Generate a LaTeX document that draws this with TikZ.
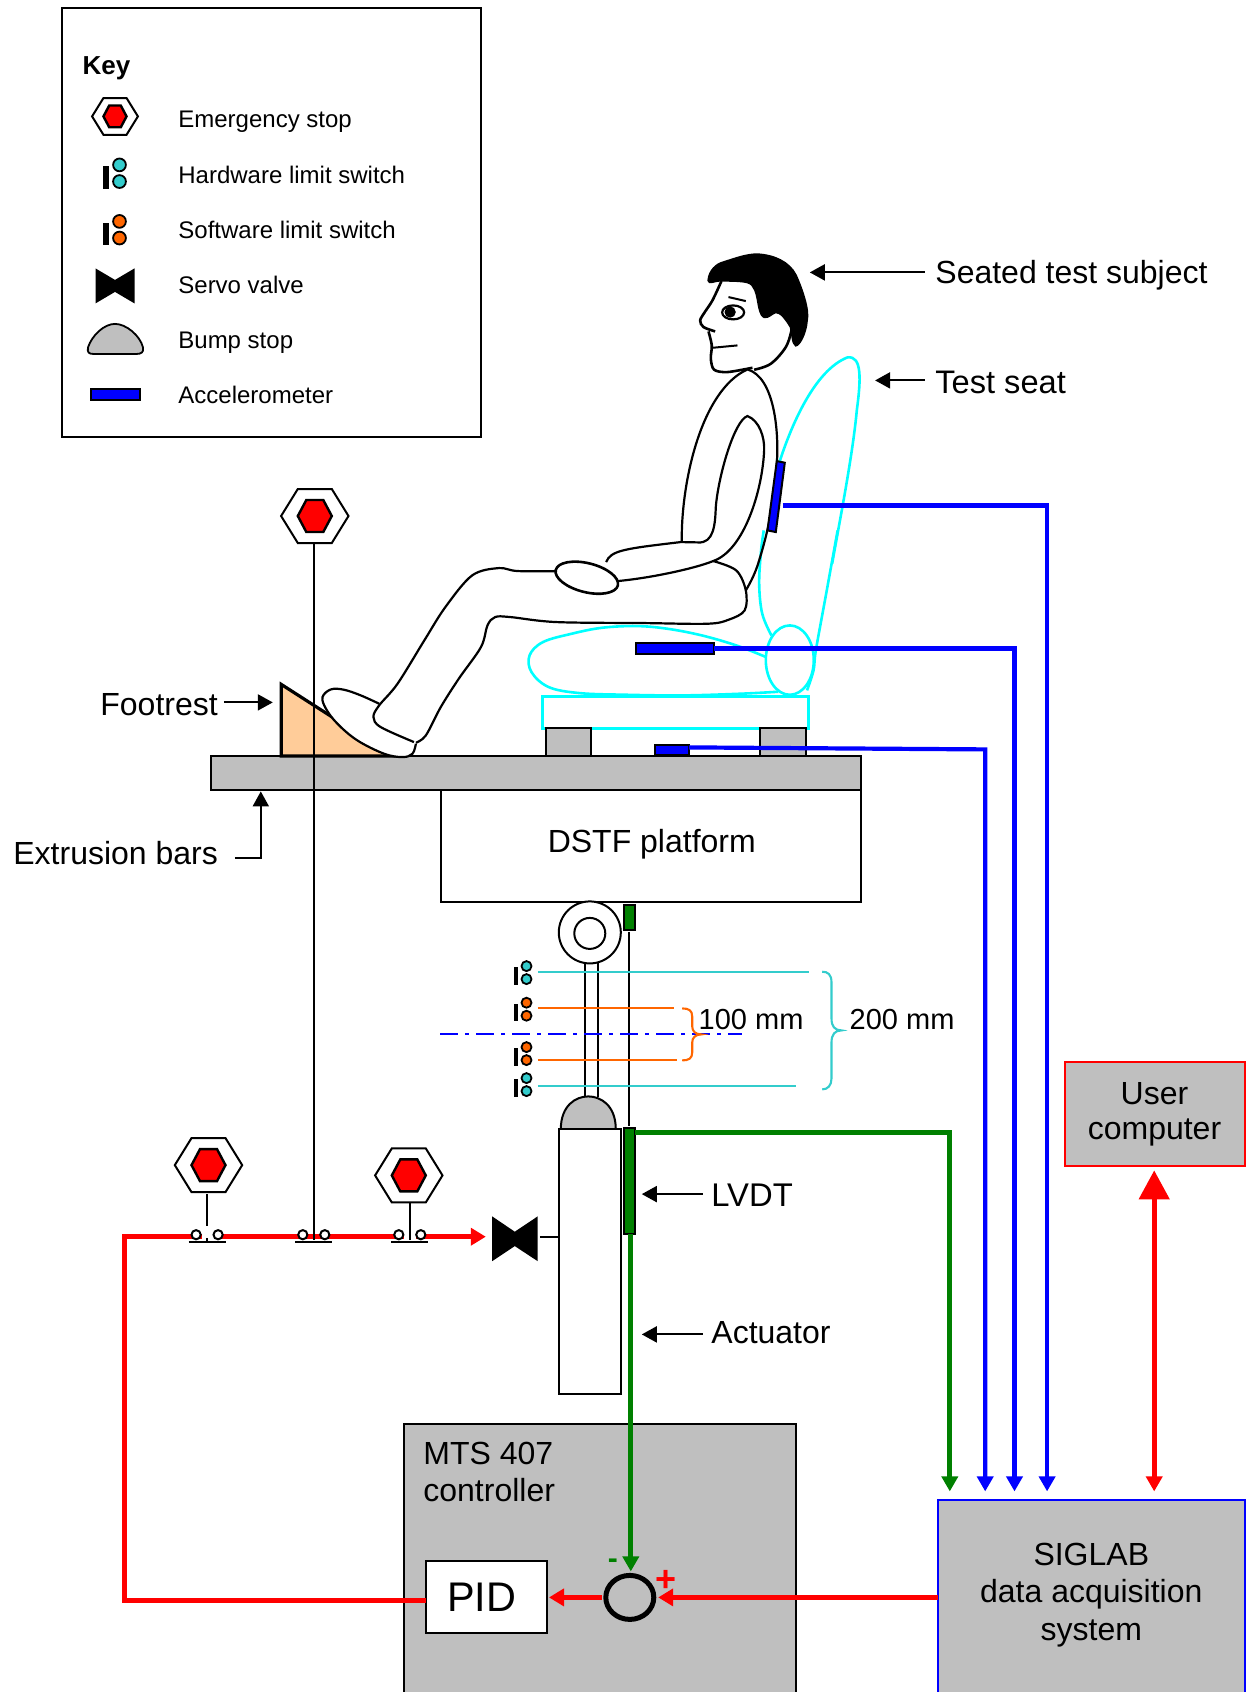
\documentclass[tikz,border=0pt]{standalone}
\usepackage{fontspec}
\setmainfont{Liberation Sans}
\usetikzlibrary{arrows.meta,shapes.geometric}
\definecolor{gbox}{HTML}{BFBFBF}
\definecolor{teal2}{HTML}{33CCCC}
\definecolor{orange2}{HTML}{FF6600}
\definecolor{skin}{HTML}{FFCC99}
\definecolor{green2}{HTML}{008000}
\definecolor{cyan2}{HTML}{00FFFF}
\newcommand{\fs}[1]{\fontsize{#1}{#1}\selectfont}
\tikzset{
  ink/.style={line width=1pt,black},
  box/.style={draw=black,line width=1pt,inner sep=0pt,outer sep=0pt,fill=gbox},
  sensor/.style={draw=black,line width=1pt,inner sep=0pt,outer sep=0pt},
  body/.style={draw=black,line width=1.1pt},
  seatline/.style={draw=cyan2,line width=1.3pt},
  wire/.style={line width=2.1pt},
  greenwire/.style={line width=2.4pt,green2},
  redwire/.style={line width=2.6pt,red},
  tipS/.style={-{Triangle[length=7.5pt,width=8.5pt]}},
  tipL/.style={-{Triangle[length=7.5pt,width=8pt]}},
  keytxt/.style={anchor=west,font=\fs{12},inner sep=0pt},
  lab/.style={anchor=west,font=\fs{16},inner sep=0pt},
  dimtxt/.style={anchor=west,font=\fs{14.5},inner sep=0pt},
  lim/.style={line width=1.05pt},
  zb/.style={shift={(480,230)},xscale=0.33333,yscale=0.33333},
  zc/.style={shift={(280,530)},xscale=0.38270,yscale=0.33333},
  pics/estop/.style={code={
    \draw[ink,fill=white] (-33.7,0)--(-17,-27)--(17,-27)--(33.7,0)--(17,27)--(-17,27)--cycle;
    \draw[ink,fill=red,line width=1.2pt] (-17,0)--(-8.5,-16)--(8.5,-16)--(17,0)--(8.5,16)--(-8.5,16)--cycle;
  }},
  pics/limsw/.style={code={
    \fill[black] (-12.8,1) rectangle (-8.2,18.6);
    \draw[line width=.9pt,fill=#1] (0,0) circle (5);
    \draw[line width=.9pt,fill=#1] (0,13) circle (5);
  }},
  pics/contact/.style={code={
    \draw[line width=1pt,fill=white] (-11,-2) circle (4.6);
    \draw[line width=1pt,fill=white] (11,-2) circle (4.6);
    \draw[line width=1pt] (-18.5,5.5) -- (18.5,5.5);
  }},
}
\begin{document}
\begin{tikzpicture}[x=0.5pt,y=-0.5pt]
\clip (0,0) rectangle (1247,1692);
\useasboundingbox (0,0) rectangle (1247,1692);
\fill[white] (0,0) rectangle (1247,1692);
\begin{scope}[shift={(0.8,0.4)}]

% ---------- key
\node[draw=black,line width=1pt,inner sep=0pt,minimum width=209.7pt,minimum height=214.5pt] (keybox) at (270.7,222.5) {};
\node[anchor=west,inner sep=0pt,font=\bfseries\fs{13}] (keytitle) at (81.5,68) {Key};
\pic[scale=.68] at (114.2,116) {estop};
\pic[scale=1.28] at (118.7,164.5) {limsw=teal2};
\pic[scale=1.28] at (118.7,221) {limsw=orange2};
\fill[black] (94.7,268) -- (114.2,279.5) -- (133.7,268) -- (133.7,303) -- (114.2,291.5) -- (94.7,303) -- cycle;
\draw[line width=.9pt,fill=gbox] (87.2,347) .. controls (91.2,335) and (103.2,323.5) .. (114.2,323.5) .. controls (125.2,323.5) and (139.2,335) .. (142.2,347) .. controls (143.2,352) and (140.2,353.5) .. (136.2,353.5) -- (92.2,353.5) .. controls (88.2,353.5) and (86.2,352) .. (87.2,347) -- cycle;
\node[sensor,fill=blue,minimum width=24.5pt,minimum height=5.5pt] (keyacc) at (114.6,394.5) {};
\node[keytxt] (k1) at (177.2,121) {Emergency stop};
\node[keytxt] (k2) at (177.2,175) {Hardware limit switch};
\node[keytxt] (k3) at (177.2,230) {Software limit switch};
\node[keytxt] (k4) at (177.2,285) {Servo valve};
\node[keytxt] (k5) at (177.2,342) {Bump stop};
\node[keytxt] (k6) at (177.2,395) {Accelerometer};

% ---------- test seat
\begin{scope}[zc]
\draw[seatline] plot[smooth,tension=.6] coordinates {(1268,380) (1190,345) (1100,315) (1010,295) (930,287) (840,292) (760,310) (685,335) (650,375) (655,425) (700,470) (780,488) (900,493) (1050,495) (1200,490) (1300,484)};
\draw[seatline] plot[smooth,tension=.6] coordinates {(1282,315) (1258,250) (1250,160) (1255,60) (1262,0)};
\draw[seatline] plot[smooth,tension=.5] coordinates {(1455,0) (1425,190) (1398,360) (1392,420) (1375,480)};
\end{scope}
\begin{scope}[zb]
\draw[seatline] (897,692) .. controls (930,590) and (1000,420) .. (1100,381) .. controls (1145,375) and (1140,450) .. (1128,540) .. controls (1115,680) and (1075,880) .. (1054,1000);
\end{scope}
\draw[seatline] (789,659.7) ellipse (24 and 34.7);
\node[draw=cyan2,line width=1.5pt,inner sep=0pt,outer sep=0pt,minimum width=133pt,minimum height=16.3pt] (seatbase) at (675,712) {};
\node[box,minimum width=22.6pt,minimum height=14pt] (legL) at (567.4,742) {};
\node[box,minimum width=22.7pt,minimum height=14pt] (legR) at (782.2,742) {};

% ---------- platform
\node[box,minimum width=325pt,minimum height=17pt] (bar) at (535,773) {};
\node[draw=black,line width=1pt,inner sep=0pt,outer sep=0pt,fill=white,minimum width=210pt,minimum height=56pt,font=\fs{16}] (dstf) at (650,846) {};
\node[font=\fs{16},inner sep=0pt] (dstftxt) at (651,843.5) {DSTF platform};
\draw[line width=1.6pt,fill=skin,line join=miter] (280.5,755.5) -- (280.5,684) -- (392,755.5) -- cycle;

% ---------- person
\begin{scope}[zc]
\fill[white] plot[smooth,tension=.6] coordinates {(257,520) (209,495) (165,478) (131,477) (109,500) (118,535) (148,580) (200,630) (270,670) (318,680) (344,670) (353,640)} -- cycle;
\draw[body] plot[smooth,tension=.6] coordinates {(257,520) (209,495) (165,478) (131,477) (109,500) (118,535) (148,580) (200,630) (270,670) (318,680) (344,670) (353,640)};
\draw[body] plot[smooth,tension=.55] coordinates {(745,122) (620,122) (570,113) (500,135) (430,230) (375,330) (305,460) (257,525) (242,560) (261,590) (348,635)};
\draw[body] plot[smooth,tension=.55] coordinates {(1130,92) (1190,120) (1215,180) (1212,240) (1170,268) (1115,280) (950,278) (720,275) (600,260) (560,260) (540,285) (523,350) (465,445) (418,530) (379,615) (353,637)};
\end{scope}
\begin{scope}[zb]
\draw[body,line width=1.1pt,fill=black] (683,150) .. controls (685,120) and (710,100) .. (725,97) .. controls (770,82) and (800,72) .. (830,72) .. controls (880,75) and (925,95) .. (945,135) .. controls (965,180) and (985,240) .. (978,270) .. controls (975,310) and (955,345) .. (945,345) .. controls (935,340) and (935,310) .. (930,290) .. controls (915,265) and (900,245) .. (885,245) .. controls (870,250) and (865,262) .. (850,260) .. controls (830,250) and (835,190) .. (818,170) .. controls (810,150) and (780,152) .. (720,150) .. controls (700,150) and (685,162) .. (683,150) -- cycle;
\draw[body,line width=1.3pt] plot[smooth,tension=.5] coordinates {(722,152) (695,210) (672,245) (658,270) (668,290) (703,303)};
\draw[body,line width=1.3pt] plot[smooth,tension=.5] coordinates {(683,303) (693,345) (690,385) (700,418) (740,425) (815,412)};
\draw[body,line width=1.3pt] plot[smooth,tension=.6] coordinates {(820,418) (870,400) (915,350) (932,300)};
\draw[ink] (743,200) -- (795,212);
\draw[ink] (697,352) -- (770,345);
\draw[line width=1.1pt,fill=white] (757,246) ellipse (33 and 21);
\fill[black] (748,245) circle (17);
\fill[white] (765,238) circle (3);
\draw[body] (603,935) .. controls (600,760) and (660,480) .. (800,417) .. controls (880,440) and (895,600) .. (888,700) .. controls (885,800) and (860,910) .. (835,990) .. controls (825,1025) and (810,1055) .. (795,1080);
\draw[body] (376,995) .. controls (390,960) and (430,955) .. (600,935) -- (651,936) .. controls (700,940) and (703,880) .. (705,830) .. controls (712,740) and (760,570) .. (800,557) .. controls (835,570) and (852,620) .. (850,660) .. controls (845,780) and (790,960) .. (697,992) .. controls (640,1015) and (500,1045) .. (399,1053);
\draw[sensor,fill=blue] (888,692) -- (912,697) -- (885,905) -- (860,900) -- cycle;
\end{scope}
\draw[line width=1.3pt,fill=white,rotate around={-14:(586,577.3)}] (586,577.3) ellipse (32 and 14.5);

% ---------- sensors on seat
\node[sensor,fill=blue,minimum width=39pt,minimum height=5.3pt] (seatacc) at (674,648) {};
\node[sensor,fill=blue,minimum width=16.8pt,minimum height=5pt] (flooracc) at (671.2,749.3) {};
\coordinate (backout) at (781.7,505);

% ---------- actuator
\node[draw=black,line width=1pt,inner sep=0pt,outer sep=0pt,circle,minimum size=31pt,fill=white] (ring) at (589,932) {};
\node[draw=black,line width=1pt,inner sep=0pt,outer sep=0pt,circle,minimum size=15.5pt,fill=white] (ringin) at (589,933) {};
\draw[ink] (584.6,962) -- (584.6,1097);
\draw[ink] (596.8,962) -- (596.8,1097);
\draw[line width=1pt,fill=gbox] (560,1129) .. controls (560,1105) and (575,1096) .. (587.5,1096) .. controls (600,1096) and (615,1105) .. (615,1129) -- cycle;
\node[draw=black,line width=1pt,inner sep=0pt,outer sep=0pt,fill=white,minimum width=31pt,minimum height=132.5pt] (act) at (589,1261.5) {};
\node[sensor,fill=green2,minimum width=5.7pt,minimum height=12.7pt] (lvdtup) at (628.6,917) {};
\node[sensor,fill=green2,minimum width=5.7pt,minimum height=53pt] (lvdt) at (628.6,1181) {};
\draw[ink] (628.6,931.5) -- (628.6,1126);

% ---------- limit switches
\draw[teal2,lim] (537,971.3) -- (808,971.3);
\draw[orange2,lim] (537,1008) -- (673,1008);
\draw[orange2,lim] (537,1060) -- (675.7,1060);
\draw[teal2,lim] (537,1086) -- (795,1086);
\draw[blue,lim,dash pattern=on 9pt off 3.5pt on 2pt off 3.5pt] (439.6,1034) -- (741.4,1034);
\pic at (525.7,965.7) {limsw=teal2};
\pic at (525.7,1002.3) {limsw=orange2};
\pic at (525.7,1046.7) {limsw=orange2};
\pic at (525.7,1077.7) {limsw=teal2};
\draw[orange2,lim] (681.4,1008) .. controls (688,1008) and (691.4,1010) .. (691.4,1016) -- (691.4,1026) .. controls (691.4,1031) and (695,1034) .. (700.4,1034) .. controls (695,1034) and (691.4,1037) .. (691.4,1042) -- (691.4,1052) .. controls (691.4,1058) and (688,1060) .. (681.4,1060);
\draw[teal2,lim] (821.4,971.3) .. controls (827,971.3) and (830.7,974) .. (830.7,982) -- (830.7,1018) .. controls (830.7,1026) and (834,1030) .. (840.7,1030) .. controls (834,1030) and (830.7,1034) .. (830.7,1042) -- (830.7,1078) .. controls (830.7,1085) and (827,1089) .. (821.4,1089);
\node[dimtxt] (d100) at (697.5,1019.5) {100 mm};
\node[dimtxt] (d200) at (848.5,1019.5) {200 mm};

% ---------- controller boxes
\node[box,minimum width=196pt,minimum height=160pt] (mts) at (598.7,1584) {};
\node[anchor=north west,align=left,inner sep=0pt,font=\fontsize{16}{18.5}\selectfont] (mtstxt) at (422.2,1441) {MTS 407\\controller};
\node[draw=black,line width=1pt,inner sep=0pt,outer sep=0pt,fill=white,minimum width=60.5pt,minimum height=36pt] (pid) at (485.3,1597) {};
\node[font=\fs{20.7},inner sep=0pt] (pidtxt) at (481,1597.3) {PID};
\node[draw=black,line width=2.5pt,inner sep=0pt,outer sep=0pt,ellipse,minimum width=24pt,minimum height=22pt] (sum) at (629,1597) {};
\node[draw=blue,line width=1pt,inner sep=0pt,outer sep=0pt,fill=gbox,minimum width=153.4pt,minimum height=120pt,align=center] (sig) at (1091,1620) {};
\node[align=center,inner sep=0pt,font=\fontsize{16}{18.8}\selectfont] (sigtxt) at (1090.5,1594.5) {SIGLAB\\data acquisition\\system};
\node[draw=red,line width=1pt,inner sep=0pt,outer sep=0pt,fill=gbox,minimum width=90pt,minimum height=52pt,align=center,font=\fontsize{16}{17.6}\selectfont] (user) at (1153.7,1113.7) {User\\computer};
\node[font=\bfseries\fs{15},text=green2,inner sep=0pt] (minus) at (612,1563) {-};
\node[font=\bfseries\fs{18},text=red,inner sep=0pt] (plus) at (665.5,1581) {+};

% ---------- emergency stops and red loop
\coordinate (pidout) at (425,1600);
\coordinate (loopA) at (124,1236.3);
\coordinate (valvein) at (485,1236.3);
\draw[redwire,tipS,line join=miter] (pidout) -- (124,1600) -- (loopA) -- (valvein);
\fill[white] (201,1232) rectangle (213,1240);
\fill[white] (403,1232) rectangle (415,1240);
\pic at (207.7,1164.7) {estop};
\pic at (408,1175) {estop};
\pic at (314,515.6) {estop};
\draw[ink] (206.4,1194) -- (206.4,1226);
\draw[ink] (206.4,1238) -- (206.4,1241);
\draw[ink] (313,543) -- (313,1240);
\draw[ink] (409.6,1202) -- (409.6,1240);
\pic at (206.3,1236.3) {contact};
\pic at (313,1236.3) {contact};
\pic at (409,1236.3) {contact};
\fill[black] (491.4,1216) -- (514,1231.3) -- (536.8,1216) -- (536.8,1260.7) -- (514,1245.7) -- (491.4,1260.7) -- cycle;
\coordinate (valveout) at (539,1236.3);
\draw[ink] (valveout) -- (act.west |- valveout);

% ---------- signal wires
\coordinate (ing) at (949,1491);
\coordinate (inb1) at (984.4,1491);
\coordinate (inb2) at (1013.7,1491);
\coordinate (inb3) at (1046.3,1491);
\coordinate (inr) at (1153.4,1491);
\coordinate (userin) at (1153.4,1170);
\coordinate (lvdtout) at (634,1132);
\coordinate (lvdtdown) at (630,1234);
\coordinate (sumtop) at (630,1571);
\coordinate (flooracout) at (688,747);
\draw[greenwire,tipL,line join=miter] (lvdtout) -| (ing);
\draw[greenwire,tipL] (lvdtdown) -- (sumtop);
\draw[wire,blue,tipL,line join=miter] (backout) -| (inb3);
\draw[wire,blue,tipL,line join=miter] (seatacc.east) -| (inb2);
\coordinate (floorbend) at (984.4,749);
\draw[wire,blue,tipL,line join=miter] (flooracout) -- (floorbend) -- (inb1);
\draw[redwire,line width=2.4pt,{Triangle[length=14.5pt,width=15pt]}-{Triangle[length=7.5pt,width=8pt]}] (userin) -- (inr);
\draw[redwire,tipS,shorten >=2.2pt] (sig.west |- sum) -- (sum.east);
\draw[redwire,tipS,shorten <=1.8pt,shorten >=1.2pt] (sum.west) -- (pid.east);

% ---------- labels and pointers
\node[lab] (tsub) at (934.2,275) {Seated test subject};
\node[lab,font=\fs{16.3}] (tseat) at (934.2,382.5) {Test seat};
\node[lab] (tfoot) at (99.2,704) {Footrest};
\node[lab] (text) at (12.2,853) {Extrusion bars};
\node[lab,font=\fs{16.4}] (tlvdt) at (710.2,1195) {LVDT};
\node[lab] (tact) at (710.2,1332) {Actuator};
\coordinate (psub) at (809,272);
\coordinate (pseat) at (874.3,380);
\coordinate (pfoot) at (272,702);
\coordinate (pext) at (260,791);
\coordinate (plvdt) at (641,1193.7);
\coordinate (pact) at (641,1334);
\draw[ink,tipL] (924,272) -- (psub);
\draw[ink,tipL] (924,380) -- (pseat);
\draw[ink,tipL] (223,702) -- (pfoot);
\draw[ink,tipL] (234,858) -- (260,858) -- (pext);
\draw[ink,tipL] (702,1193.7) -- (plvdt);
\draw[ink,tipL] (702,1334) -- (pact);
\end{scope}
\end{tikzpicture}
\end{document}
